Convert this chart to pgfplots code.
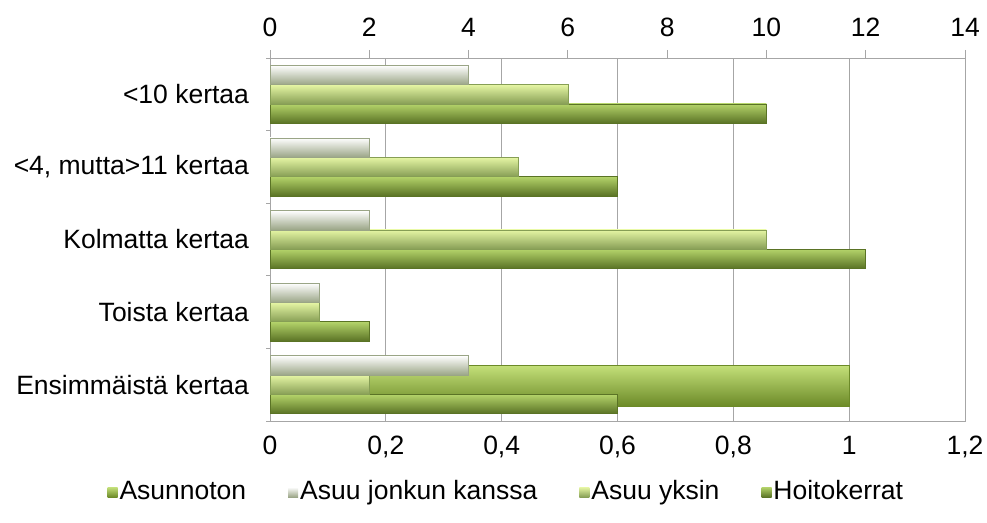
\documentclass[border=0pt]{standalone}
\usepackage{fontspec}
\setmainfont{Liberation Sans}
\usepackage{pgfplots}
\pgfplotsset{compat=1.18}
\definecolor{gridc}{HTML}{A6A6A6}
\definecolor{hoT}{HTML}{B4D36A}
\definecolor{hoM}{HTML}{7E9E3A}
\definecolor{hoB}{HTML}{5A7325}
\definecolor{ykT}{HTML}{E6F6A4}
\definecolor{ykM}{HTML}{ADC86C}
\definecolor{ykB}{HTML}{869E55}
\definecolor{joT}{HTML}{FFFFFF}
\definecolor{joM}{HTML}{D6DFC2}
\definecolor{joB}{HTML}{9AA586}
\definecolor{asT}{HTML}{C4E07A}
\definecolor{asM}{HTML}{94B843}
\definecolor{asB}{HTML}{6C8A28}
\pgfplotsset{
  hoit/.style={xbar, bar width=19.3bp, bar shift=-19.3bp, draw=hoB, line width=0.5bp,
    top color=hoT, middle color=hoM, bottom color=hoB},
  yks/.style={xbar, bar width=19.3bp, bar shift=0bp, draw=ykB, line width=0.5bp,
    top color=ykT, middle color=ykM, bottom color=ykB},
  jon/.style={xbar, bar width=19.3bp, bar shift=19.3bp, draw=joB, line width=0.5bp,
    top color=joT, middle color=joM, bottom color=joB},
}
\newcommand{\fs}{\fontsize{26.5bp}{31bp}\selectfont}
\begin{document}
\fs
\begin{tikzpicture}[x=1bp,y=1bp]
\useasboundingbox (0,0) rectangle (987,523);
% bottom axis (0 - 1.2) with Asunnoton
\begin{axis}[
  at={(270bp,102bp)}, anchor=south west,
  scale only axis, width=695bp, height=363bp,
  xmin=0, xmax=1.2,
  ymin=-0.5, ymax=4.5,
  xtick={0,0.2,0.4,0.6,0.8,1,1.2},
  xtick pos=left, ytick pos=left,
  /pgf/number format/use comma,
  /pgf/number format/assume math mode=true,
  xticklabel style={yshift=-6bp},
  major tick length=0pt,
  xmajorgrids, grid style={gridc, line width=0.8bp},
  axis line style={gridc, line width=0.8bp},
  ytick={0,1,2,3,4},
  yticklabels={Ensimmäistä kertaa, Toista kertaa, Kolmatta kertaa, {<4, mutta>11 kertaa}, <10 kertaa},
  yticklabel style={xshift=-12bp},
  ytick style={draw=none},
  extra y ticks={-0.5,0.5,1.5,2.5,3.5,4.5},
  extra y tick labels={},
  extra y tick style={major tick length=4bp, tick align=outside, ytick style={draw=gridc, line width=0.8bp}, grid=none},
  every tick label/.append style={font=\fs},
  legend style={at={(0.34,-0.196)}, anchor=center, draw=none, fill=none,
    legend columns=4, font=\fs,
    /tikz/every even column/.append style={column sep=40bp},
    inner sep=0pt, outer sep=0pt},
  legend image code/.code={\path[#1, draw=none] (0bp,-5bp) rectangle (10bp,5bp);},
  legend cell align=left,
]
\addplot[xbar, bar width=41bp, bar shift=-1bp, draw=asB, line width=0.5bp,
  top color=asT, middle color=asM, bottom color=asB]
  coordinates {(1,0)};
\addlegendentry{Asunnoton}
\addlegendimage{top color=joT, middle color=joM, bottom color=joB}
\addlegendentry{Asuu jonkun kanssa}
\addlegendimage{top color=ykT, middle color=ykM, bottom color=ykB}
\addlegendentry{Asuu yksin}
\addlegendimage{top color=hoT, middle color=hoM, bottom color=hoB}
\addlegendentry{Hoitokerrat}
\end{axis}
% top axis (0 - 14)
\begin{axis}[
  at={(270bp,102bp)}, anchor=south west,
  scale only axis, width=695bp, height=363bp,
  xmin=0, xmax=14,
  ymin=-0.5, ymax=4.5,
  xtick={0,2,4,6,8,10,12,14},
  xtick pos=right, xticklabel pos=right,
  tick align=outside, major tick length=8bp,
  xtick style={draw=gridc, line width=0.8bp},
  /pgf/number format/assume math mode=true,
  xticklabel style={yshift=4bp},
  every tick label/.append style={font=\fs},
  axis line style={gridc, line width=0.8bp},
  ytick=\empty,
]
% Hoitokerrat
\addplot[hoit] coordinates {(7,0)};
\addplot[hoit] coordinates {(2,1)};
\addplot[hoit] coordinates {(12,2)};
\addplot[hoit] coordinates {(7,3)};
\addplot[hoit] coordinates {(10,4)};
% Asuu yksin
\addplot[yks] coordinates {(2,0)};
\addplot[yks] coordinates {(1,1)};
\addplot[yks] coordinates {(10,2)};
\addplot[yks] coordinates {(5,3)};
\addplot[yks] coordinates {(6,4)};
% Asuu jonkun kanssa
\addplot[jon] coordinates {(4,0)};
\addplot[jon] coordinates {(1,1)};
\addplot[jon] coordinates {(2,2)};
\addplot[jon] coordinates {(2,3)};
\addplot[jon] coordinates {(4,4)};
\end{axis}
\end{tikzpicture}
\end{document}
